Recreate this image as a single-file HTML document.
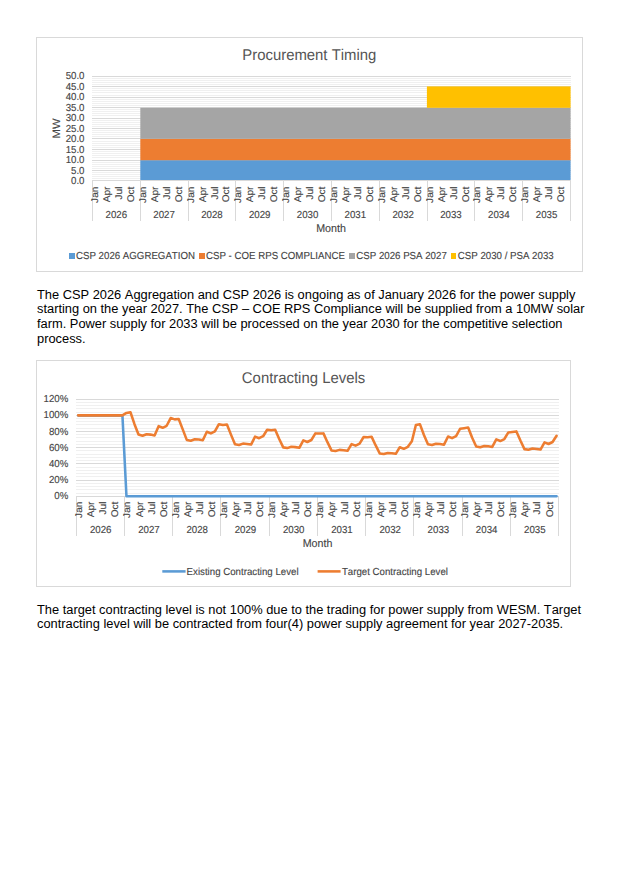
<!DOCTYPE html>
<html><head><meta charset="utf-8"><title>Procurement Timing</title>
<style>
html,body{margin:0;padding:0;background:#fff;}
body{width:632px;height:895px;position:relative;overflow:hidden;font-family:"Liberation Sans", sans-serif;font-kerning:none;}
svg{position:absolute;left:0;top:0;}
svg text{font-family:"Liberation Sans", sans-serif;font-kerning:none;text-rendering:geometricPrecision;stroke:#444444;stroke-width:0.12px;}
.p{position:absolute;left:37px;margin:0;font-size:12.85px;line-height:14.7px;color:#000;white-space:nowrap;}
</style></head><body>
<svg width="632" height="895" viewBox="0 0 632 895">
<rect x="36.5" y="37.5" width="546" height="234" fill="#fff" stroke="#d9d9d9" stroke-width="1"/>
<text transform="translate(309.30,60.00) scale(1,1.045)" text-anchor="middle" font-size="14.9" fill="#555555" style="stroke:none">Procurement Timing</text>
<rect x="92" y="78" width="479" height="1" fill="#f0f0f0"/>
<rect x="92" y="80" width="479" height="1" fill="#f0f0f0"/>
<rect x="92" y="82" width="479" height="1" fill="#f0f0f0"/>
<rect x="92" y="84" width="479" height="1" fill="#f0f0f0"/>
<rect x="92" y="88" width="479" height="1" fill="#f0f0f0"/>
<rect x="92" y="90" width="479" height="1" fill="#f0f0f0"/>
<rect x="92" y="92" width="479" height="1" fill="#f0f0f0"/>
<rect x="92" y="95" width="479" height="1" fill="#f0f0f0"/>
<rect x="92" y="99" width="479" height="1" fill="#f0f0f0"/>
<rect x="92" y="101" width="479" height="1" fill="#f0f0f0"/>
<rect x="92" y="103" width="479" height="1" fill="#f0f0f0"/>
<rect x="92" y="105" width="479" height="1" fill="#f0f0f0"/>
<rect x="92" y="109" width="479" height="1" fill="#f0f0f0"/>
<rect x="92" y="111" width="479" height="1" fill="#f0f0f0"/>
<rect x="92" y="113" width="479" height="1" fill="#f0f0f0"/>
<rect x="92" y="115" width="479" height="1" fill="#f0f0f0"/>
<rect x="92" y="120" width="479" height="1" fill="#f0f0f0"/>
<rect x="92" y="122" width="479" height="1" fill="#f0f0f0"/>
<rect x="92" y="124" width="479" height="1" fill="#f0f0f0"/>
<rect x="92" y="126" width="479" height="1" fill="#f0f0f0"/>
<rect x="92" y="130" width="479" height="1" fill="#f0f0f0"/>
<rect x="92" y="132" width="479" height="1" fill="#f0f0f0"/>
<rect x="92" y="134" width="479" height="1" fill="#f0f0f0"/>
<rect x="92" y="136" width="479" height="1" fill="#f0f0f0"/>
<rect x="92" y="141" width="479" height="1" fill="#f0f0f0"/>
<rect x="92" y="143" width="479" height="1" fill="#f0f0f0"/>
<rect x="92" y="145" width="479" height="1" fill="#f0f0f0"/>
<rect x="92" y="147" width="479" height="1" fill="#f0f0f0"/>
<rect x="92" y="151" width="479" height="1" fill="#f0f0f0"/>
<rect x="92" y="153" width="479" height="1" fill="#f0f0f0"/>
<rect x="92" y="155" width="479" height="1" fill="#f0f0f0"/>
<rect x="92" y="157" width="479" height="1" fill="#f0f0f0"/>
<rect x="92" y="162" width="479" height="1" fill="#f0f0f0"/>
<rect x="92" y="164" width="479" height="1" fill="#f0f0f0"/>
<rect x="92" y="166" width="479" height="1" fill="#f0f0f0"/>
<rect x="92" y="168" width="479" height="1" fill="#f0f0f0"/>
<rect x="92" y="172" width="479" height="1" fill="#f0f0f0"/>
<rect x="92" y="174" width="479" height="1" fill="#f0f0f0"/>
<rect x="92" y="176" width="479" height="1" fill="#f0f0f0"/>
<rect x="92" y="178" width="479" height="1" fill="#f0f0f0"/>
<rect x="92" y="76" width="479" height="1" fill="#d9d9d9"/>
<rect x="92" y="86" width="479" height="1" fill="#d9d9d9"/>
<rect x="92" y="97" width="479" height="1" fill="#d9d9d9"/>
<rect x="92" y="107" width="479" height="1" fill="#d9d9d9"/>
<rect x="92" y="118" width="479" height="1" fill="#d9d9d9"/>
<rect x="92" y="128" width="479" height="1" fill="#d9d9d9"/>
<rect x="92" y="138" width="479" height="1" fill="#d9d9d9"/>
<rect x="92" y="149" width="479" height="1" fill="#d9d9d9"/>
<rect x="92" y="160" width="479" height="1" fill="#d9d9d9"/>
<rect x="92" y="170" width="479" height="1" fill="#d9d9d9"/>
<text transform="translate(84.50,79.30) scale(1,1.045)" text-anchor="end" font-size="9.7" fill="#444444">50.0</text>
<text transform="translate(84.50,89.78) scale(1,1.045)" text-anchor="end" font-size="9.7" fill="#444444">45.0</text>
<text transform="translate(84.50,100.26) scale(1,1.045)" text-anchor="end" font-size="9.7" fill="#444444">40.0</text>
<text transform="translate(84.50,110.74) scale(1,1.045)" text-anchor="end" font-size="9.7" fill="#444444">35.0</text>
<text transform="translate(84.50,121.22) scale(1,1.045)" text-anchor="end" font-size="9.7" fill="#444444">30.0</text>
<text transform="translate(84.50,131.70) scale(1,1.045)" text-anchor="end" font-size="9.7" fill="#444444">25.0</text>
<text transform="translate(84.50,142.18) scale(1,1.045)" text-anchor="end" font-size="9.7" fill="#444444">20.0</text>
<text transform="translate(84.50,152.66) scale(1,1.045)" text-anchor="end" font-size="9.7" fill="#444444">15.0</text>
<text transform="translate(84.50,163.14) scale(1,1.045)" text-anchor="end" font-size="9.7" fill="#444444">10.0</text>
<text transform="translate(84.50,173.62) scale(1,1.045)" text-anchor="end" font-size="9.7" fill="#444444">5.0</text>
<text transform="translate(84.50,184.10) scale(1,1.045)" text-anchor="end" font-size="9.7" fill="#444444">0.0</text>
<text transform="translate(60.00,128.50) rotate(-90) scale(1.045,1)" text-anchor="middle" font-size="10.7" fill="#444444">MW</text>
<rect x="140.3" y="160.2" width="430.30" height="19.80" fill="#5b9bd5"/>
<rect x="140.3" y="138.8" width="430.30" height="21.40" fill="#ed7d31"/>
<rect x="140.3" y="107.8" width="430.30" height="31.00" fill="#a5a5a5"/>
<rect x="426.9" y="86.4" width="143.70" height="21.40" fill="#ffc000"/>
<rect x="92" y="180" width="479" height="1" fill="#d9d9d9"/>
<rect x="92" y="180" width="1" height="41" fill="#d9d9d9"/>
<rect x="140" y="180" width="1" height="41" fill="#d9d9d9"/>
<rect x="188" y="180" width="1" height="41" fill="#d9d9d9"/>
<rect x="235" y="180" width="1" height="41" fill="#d9d9d9"/>
<rect x="283" y="180" width="1" height="41" fill="#d9d9d9"/>
<rect x="331" y="180" width="1" height="41" fill="#d9d9d9"/>
<rect x="379" y="180" width="1" height="41" fill="#d9d9d9"/>
<rect x="427" y="180" width="1" height="41" fill="#d9d9d9"/>
<rect x="474" y="180" width="1" height="41" fill="#d9d9d9"/>
<rect x="522" y="180" width="1" height="41" fill="#d9d9d9"/>
<rect x="570" y="180" width="1" height="41" fill="#d9d9d9"/>
<text transform="translate(97.99,186.60) rotate(-90) scale(1.045,1)" text-anchor="end" font-size="9.7" fill="#444444">Jan</text>
<text transform="translate(109.94,186.60) rotate(-90) scale(1.045,1)" text-anchor="end" font-size="9.7" fill="#444444">Apr</text>
<text transform="translate(121.90,186.60) rotate(-90) scale(1.045,1)" text-anchor="end" font-size="9.7" fill="#444444">Jul</text>
<text transform="translate(133.85,186.60) rotate(-90) scale(1.045,1)" text-anchor="end" font-size="9.7" fill="#444444">Oct</text>
<text transform="translate(116.31,217.70) scale(1,1.045)" text-anchor="middle" font-size="9.7" fill="#444444">2026</text>
<text transform="translate(145.80,186.60) rotate(-90) scale(1.045,1)" text-anchor="end" font-size="9.7" fill="#444444">Jan</text>
<text transform="translate(157.75,186.60) rotate(-90) scale(1.045,1)" text-anchor="end" font-size="9.7" fill="#444444">Apr</text>
<text transform="translate(169.71,186.60) rotate(-90) scale(1.045,1)" text-anchor="end" font-size="9.7" fill="#444444">Jul</text>
<text transform="translate(181.66,186.60) rotate(-90) scale(1.045,1)" text-anchor="end" font-size="9.7" fill="#444444">Oct</text>
<text transform="translate(164.12,217.70) scale(1,1.045)" text-anchor="middle" font-size="9.7" fill="#444444">2027</text>
<text transform="translate(193.61,186.60) rotate(-90) scale(1.045,1)" text-anchor="end" font-size="9.7" fill="#444444">Jan</text>
<text transform="translate(205.56,186.60) rotate(-90) scale(1.045,1)" text-anchor="end" font-size="9.7" fill="#444444">Apr</text>
<text transform="translate(217.52,186.60) rotate(-90) scale(1.045,1)" text-anchor="end" font-size="9.7" fill="#444444">Jul</text>
<text transform="translate(229.47,186.60) rotate(-90) scale(1.045,1)" text-anchor="end" font-size="9.7" fill="#444444">Oct</text>
<text transform="translate(211.93,217.70) scale(1,1.045)" text-anchor="middle" font-size="9.7" fill="#444444">2028</text>
<text transform="translate(241.42,186.60) rotate(-90) scale(1.045,1)" text-anchor="end" font-size="9.7" fill="#444444">Jan</text>
<text transform="translate(253.37,186.60) rotate(-90) scale(1.045,1)" text-anchor="end" font-size="9.7" fill="#444444">Apr</text>
<text transform="translate(265.33,186.60) rotate(-90) scale(1.045,1)" text-anchor="end" font-size="9.7" fill="#444444">Jul</text>
<text transform="translate(277.28,186.60) rotate(-90) scale(1.045,1)" text-anchor="end" font-size="9.7" fill="#444444">Oct</text>
<text transform="translate(259.74,217.70) scale(1,1.045)" text-anchor="middle" font-size="9.7" fill="#444444">2029</text>
<text transform="translate(289.23,186.60) rotate(-90) scale(1.045,1)" text-anchor="end" font-size="9.7" fill="#444444">Jan</text>
<text transform="translate(301.18,186.60) rotate(-90) scale(1.045,1)" text-anchor="end" font-size="9.7" fill="#444444">Apr</text>
<text transform="translate(313.14,186.60) rotate(-90) scale(1.045,1)" text-anchor="end" font-size="9.7" fill="#444444">Jul</text>
<text transform="translate(325.09,186.60) rotate(-90) scale(1.045,1)" text-anchor="end" font-size="9.7" fill="#444444">Oct</text>
<text transform="translate(307.55,217.70) scale(1,1.045)" text-anchor="middle" font-size="9.7" fill="#444444">2030</text>
<text transform="translate(337.04,186.60) rotate(-90) scale(1.045,1)" text-anchor="end" font-size="9.7" fill="#444444">Jan</text>
<text transform="translate(348.99,186.60) rotate(-90) scale(1.045,1)" text-anchor="end" font-size="9.7" fill="#444444">Apr</text>
<text transform="translate(360.95,186.60) rotate(-90) scale(1.045,1)" text-anchor="end" font-size="9.7" fill="#444444">Jul</text>
<text transform="translate(372.90,186.60) rotate(-90) scale(1.045,1)" text-anchor="end" font-size="9.7" fill="#444444">Oct</text>
<text transform="translate(355.36,217.70) scale(1,1.045)" text-anchor="middle" font-size="9.7" fill="#444444">2031</text>
<text transform="translate(384.85,186.60) rotate(-90) scale(1.045,1)" text-anchor="end" font-size="9.7" fill="#444444">Jan</text>
<text transform="translate(396.80,186.60) rotate(-90) scale(1.045,1)" text-anchor="end" font-size="9.7" fill="#444444">Apr</text>
<text transform="translate(408.76,186.60) rotate(-90) scale(1.045,1)" text-anchor="end" font-size="9.7" fill="#444444">Jul</text>
<text transform="translate(420.71,186.60) rotate(-90) scale(1.045,1)" text-anchor="end" font-size="9.7" fill="#444444">Oct</text>
<text transform="translate(403.16,217.70) scale(1,1.045)" text-anchor="middle" font-size="9.7" fill="#444444">2032</text>
<text transform="translate(432.66,186.60) rotate(-90) scale(1.045,1)" text-anchor="end" font-size="9.7" fill="#444444">Jan</text>
<text transform="translate(444.61,186.60) rotate(-90) scale(1.045,1)" text-anchor="end" font-size="9.7" fill="#444444">Apr</text>
<text transform="translate(456.57,186.60) rotate(-90) scale(1.045,1)" text-anchor="end" font-size="9.7" fill="#444444">Jul</text>
<text transform="translate(468.52,186.60) rotate(-90) scale(1.045,1)" text-anchor="end" font-size="9.7" fill="#444444">Oct</text>
<text transform="translate(450.98,217.70) scale(1,1.045)" text-anchor="middle" font-size="9.7" fill="#444444">2033</text>
<text transform="translate(480.47,186.60) rotate(-90) scale(1.045,1)" text-anchor="end" font-size="9.7" fill="#444444">Jan</text>
<text transform="translate(492.42,186.60) rotate(-90) scale(1.045,1)" text-anchor="end" font-size="9.7" fill="#444444">Apr</text>
<text transform="translate(504.38,186.60) rotate(-90) scale(1.045,1)" text-anchor="end" font-size="9.7" fill="#444444">Jul</text>
<text transform="translate(516.33,186.60) rotate(-90) scale(1.045,1)" text-anchor="end" font-size="9.7" fill="#444444">Oct</text>
<text transform="translate(498.78,217.70) scale(1,1.045)" text-anchor="middle" font-size="9.7" fill="#444444">2034</text>
<text transform="translate(528.28,186.60) rotate(-90) scale(1.045,1)" text-anchor="end" font-size="9.7" fill="#444444">Jan</text>
<text transform="translate(540.23,186.60) rotate(-90) scale(1.045,1)" text-anchor="end" font-size="9.7" fill="#444444">Apr</text>
<text transform="translate(552.19,186.60) rotate(-90) scale(1.045,1)" text-anchor="end" font-size="9.7" fill="#444444">Jul</text>
<text transform="translate(564.14,186.60) rotate(-90) scale(1.045,1)" text-anchor="end" font-size="9.7" fill="#444444">Oct</text>
<text transform="translate(546.60,217.70) scale(1,1.045)" text-anchor="middle" font-size="9.7" fill="#444444">2035</text>
<text transform="translate(331.00,232.20) scale(1,1.045)" text-anchor="middle" font-size="10.7" fill="#444444">Month</text>
<rect x="69" y="253" width="6" height="6" fill="#5b9bd5"/>
<text transform="translate(76.00,259.10) scale(1,1.045)" font-size="9.7" fill="#444444">CSP 2026 AGGREGATION</text>
<rect x="199" y="253" width="6" height="6" fill="#ed7d31"/>
<text transform="translate(206.00,259.10) scale(1,1.045)" font-size="9.7" fill="#444444">CSP - COE RPS COMPLIANCE</text>
<rect x="349" y="253" width="6" height="6" fill="#a5a5a5"/>
<text transform="translate(356.30,259.10) scale(1,1.045)" font-size="9.7" fill="#444444">CSP 2026 PSA 2027</text>
<rect x="451" y="253" width="5" height="6" fill="#ffc000"/>
<text transform="translate(457.80,259.10) scale(1,1.045)" font-size="9.7" fill="#444444">CSP 2030 / PSA 2033</text>
<rect x="36.5" y="360.5" width="534" height="226" fill="#fff" stroke="#d9d9d9" stroke-width="1"/>
<text transform="translate(303.50,383.00) scale(1,1.045)" text-anchor="middle" font-size="14.9" fill="#555555" style="stroke:none">Contracting Levels</text>
<rect x="76" y="402" width="483" height="1" fill="#f0f0f0"/>
<rect x="76" y="405" width="483" height="1" fill="#f0f0f0"/>
<rect x="76" y="408" width="483" height="1" fill="#f0f0f0"/>
<rect x="76" y="412" width="483" height="1" fill="#f0f0f0"/>
<rect x="76" y="418" width="483" height="1" fill="#f0f0f0"/>
<rect x="76" y="421" width="483" height="1" fill="#f0f0f0"/>
<rect x="76" y="424" width="483" height="1" fill="#f0f0f0"/>
<rect x="76" y="428" width="483" height="1" fill="#f0f0f0"/>
<rect x="76" y="434" width="483" height="1" fill="#f0f0f0"/>
<rect x="76" y="437" width="483" height="1" fill="#f0f0f0"/>
<rect x="76" y="441" width="483" height="1" fill="#f0f0f0"/>
<rect x="76" y="444" width="483" height="1" fill="#f0f0f0"/>
<rect x="76" y="450" width="483" height="1" fill="#f0f0f0"/>
<rect x="76" y="454" width="483" height="1" fill="#f0f0f0"/>
<rect x="76" y="457" width="483" height="1" fill="#f0f0f0"/>
<rect x="76" y="460" width="483" height="1" fill="#f0f0f0"/>
<rect x="76" y="467" width="483" height="1" fill="#f0f0f0"/>
<rect x="76" y="470" width="483" height="1" fill="#f0f0f0"/>
<rect x="76" y="473" width="483" height="1" fill="#f0f0f0"/>
<rect x="76" y="476" width="483" height="1" fill="#f0f0f0"/>
<rect x="76" y="483" width="483" height="1" fill="#f0f0f0"/>
<rect x="76" y="486" width="483" height="1" fill="#f0f0f0"/>
<rect x="76" y="489" width="483" height="1" fill="#f0f0f0"/>
<rect x="76" y="493" width="483" height="1" fill="#f0f0f0"/>
<rect x="76" y="399" width="483" height="1" fill="#d9d9d9"/>
<rect x="76" y="415" width="483" height="1" fill="#d9d9d9"/>
<rect x="76" y="431" width="483" height="1" fill="#d9d9d9"/>
<rect x="76" y="447" width="483" height="1" fill="#d9d9d9"/>
<rect x="76" y="463" width="483" height="1" fill="#d9d9d9"/>
<rect x="76" y="480" width="483" height="1" fill="#d9d9d9"/>
<text transform="translate(68.30,402.35) scale(1,1.045)" text-anchor="end" font-size="9.7" fill="#444444">120%</text>
<text transform="translate(68.30,418.47) scale(1,1.045)" text-anchor="end" font-size="9.7" fill="#444444">100%</text>
<text transform="translate(68.30,434.59) scale(1,1.045)" text-anchor="end" font-size="9.7" fill="#444444">80%</text>
<text transform="translate(68.30,450.71) scale(1,1.045)" text-anchor="end" font-size="9.7" fill="#444444">60%</text>
<text transform="translate(68.30,466.83) scale(1,1.045)" text-anchor="end" font-size="9.7" fill="#444444">40%</text>
<text transform="translate(68.30,482.95) scale(1,1.045)" text-anchor="end" font-size="9.7" fill="#444444">20%</text>
<text transform="translate(68.30,499.07) scale(1,1.045)" text-anchor="end" font-size="9.7" fill="#444444">0%</text>
<rect x="76" y="496" width="483" height="1" fill="#d9d9d9"/>
<rect x="76" y="496" width="1" height="40" fill="#d9d9d9"/>
<rect x="124" y="496" width="1" height="40" fill="#d9d9d9"/>
<rect x="172" y="496" width="1" height="40" fill="#d9d9d9"/>
<rect x="220" y="496" width="1" height="40" fill="#d9d9d9"/>
<rect x="269" y="496" width="1" height="40" fill="#d9d9d9"/>
<rect x="317" y="496" width="1" height="40" fill="#d9d9d9"/>
<rect x="365" y="496" width="1" height="40" fill="#d9d9d9"/>
<rect x="413" y="496" width="1" height="40" fill="#d9d9d9"/>
<rect x="462" y="496" width="1" height="40" fill="#d9d9d9"/>
<rect x="510" y="496" width="1" height="40" fill="#d9d9d9"/>
<rect x="558" y="496" width="1" height="40" fill="#d9d9d9"/>
<text transform="translate(82.21,501.60) rotate(-90) scale(1.045,1)" text-anchor="end" font-size="9.7" fill="#444444">Jan</text>
<text transform="translate(94.27,501.60) rotate(-90) scale(1.045,1)" text-anchor="end" font-size="9.7" fill="#444444">Apr</text>
<text transform="translate(106.33,501.60) rotate(-90) scale(1.045,1)" text-anchor="end" font-size="9.7" fill="#444444">Jul</text>
<text transform="translate(118.39,501.60) rotate(-90) scale(1.045,1)" text-anchor="end" font-size="9.7" fill="#444444">Oct</text>
<text transform="translate(100.72,532.80) scale(1,1.045)" text-anchor="middle" font-size="9.7" fill="#444444">2026</text>
<text transform="translate(130.45,501.60) rotate(-90) scale(1.045,1)" text-anchor="end" font-size="9.7" fill="#444444">Jan</text>
<text transform="translate(142.51,501.60) rotate(-90) scale(1.045,1)" text-anchor="end" font-size="9.7" fill="#444444">Apr</text>
<text transform="translate(154.57,501.60) rotate(-90) scale(1.045,1)" text-anchor="end" font-size="9.7" fill="#444444">Jul</text>
<text transform="translate(166.63,501.60) rotate(-90) scale(1.045,1)" text-anchor="end" font-size="9.7" fill="#444444">Oct</text>
<text transform="translate(148.96,532.80) scale(1,1.045)" text-anchor="middle" font-size="9.7" fill="#444444">2027</text>
<text transform="translate(178.69,501.60) rotate(-90) scale(1.045,1)" text-anchor="end" font-size="9.7" fill="#444444">Jan</text>
<text transform="translate(190.75,501.60) rotate(-90) scale(1.045,1)" text-anchor="end" font-size="9.7" fill="#444444">Apr</text>
<text transform="translate(202.81,501.60) rotate(-90) scale(1.045,1)" text-anchor="end" font-size="9.7" fill="#444444">Jul</text>
<text transform="translate(214.87,501.60) rotate(-90) scale(1.045,1)" text-anchor="end" font-size="9.7" fill="#444444">Oct</text>
<text transform="translate(197.20,532.80) scale(1,1.045)" text-anchor="middle" font-size="9.7" fill="#444444">2028</text>
<text transform="translate(226.93,501.60) rotate(-90) scale(1.045,1)" text-anchor="end" font-size="9.7" fill="#444444">Jan</text>
<text transform="translate(238.99,501.60) rotate(-90) scale(1.045,1)" text-anchor="end" font-size="9.7" fill="#444444">Apr</text>
<text transform="translate(251.05,501.60) rotate(-90) scale(1.045,1)" text-anchor="end" font-size="9.7" fill="#444444">Jul</text>
<text transform="translate(263.11,501.60) rotate(-90) scale(1.045,1)" text-anchor="end" font-size="9.7" fill="#444444">Oct</text>
<text transform="translate(245.44,532.80) scale(1,1.045)" text-anchor="middle" font-size="9.7" fill="#444444">2029</text>
<text transform="translate(275.17,501.60) rotate(-90) scale(1.045,1)" text-anchor="end" font-size="9.7" fill="#444444">Jan</text>
<text transform="translate(287.23,501.60) rotate(-90) scale(1.045,1)" text-anchor="end" font-size="9.7" fill="#444444">Apr</text>
<text transform="translate(299.29,501.60) rotate(-90) scale(1.045,1)" text-anchor="end" font-size="9.7" fill="#444444">Jul</text>
<text transform="translate(311.35,501.60) rotate(-90) scale(1.045,1)" text-anchor="end" font-size="9.7" fill="#444444">Oct</text>
<text transform="translate(293.68,532.80) scale(1,1.045)" text-anchor="middle" font-size="9.7" fill="#444444">2030</text>
<text transform="translate(323.41,501.60) rotate(-90) scale(1.045,1)" text-anchor="end" font-size="9.7" fill="#444444">Jan</text>
<text transform="translate(335.47,501.60) rotate(-90) scale(1.045,1)" text-anchor="end" font-size="9.7" fill="#444444">Apr</text>
<text transform="translate(347.53,501.60) rotate(-90) scale(1.045,1)" text-anchor="end" font-size="9.7" fill="#444444">Jul</text>
<text transform="translate(359.59,501.60) rotate(-90) scale(1.045,1)" text-anchor="end" font-size="9.7" fill="#444444">Oct</text>
<text transform="translate(341.92,532.80) scale(1,1.045)" text-anchor="middle" font-size="9.7" fill="#444444">2031</text>
<text transform="translate(371.65,501.60) rotate(-90) scale(1.045,1)" text-anchor="end" font-size="9.7" fill="#444444">Jan</text>
<text transform="translate(383.71,501.60) rotate(-90) scale(1.045,1)" text-anchor="end" font-size="9.7" fill="#444444">Apr</text>
<text transform="translate(395.77,501.60) rotate(-90) scale(1.045,1)" text-anchor="end" font-size="9.7" fill="#444444">Jul</text>
<text transform="translate(407.83,501.60) rotate(-90) scale(1.045,1)" text-anchor="end" font-size="9.7" fill="#444444">Oct</text>
<text transform="translate(390.16,532.80) scale(1,1.045)" text-anchor="middle" font-size="9.7" fill="#444444">2032</text>
<text transform="translate(419.89,501.60) rotate(-90) scale(1.045,1)" text-anchor="end" font-size="9.7" fill="#444444">Jan</text>
<text transform="translate(431.95,501.60) rotate(-90) scale(1.045,1)" text-anchor="end" font-size="9.7" fill="#444444">Apr</text>
<text transform="translate(444.01,501.60) rotate(-90) scale(1.045,1)" text-anchor="end" font-size="9.7" fill="#444444">Jul</text>
<text transform="translate(456.07,501.60) rotate(-90) scale(1.045,1)" text-anchor="end" font-size="9.7" fill="#444444">Oct</text>
<text transform="translate(438.40,532.80) scale(1,1.045)" text-anchor="middle" font-size="9.7" fill="#444444">2033</text>
<text transform="translate(468.13,501.60) rotate(-90) scale(1.045,1)" text-anchor="end" font-size="9.7" fill="#444444">Jan</text>
<text transform="translate(480.19,501.60) rotate(-90) scale(1.045,1)" text-anchor="end" font-size="9.7" fill="#444444">Apr</text>
<text transform="translate(492.25,501.60) rotate(-90) scale(1.045,1)" text-anchor="end" font-size="9.7" fill="#444444">Jul</text>
<text transform="translate(504.31,501.60) rotate(-90) scale(1.045,1)" text-anchor="end" font-size="9.7" fill="#444444">Oct</text>
<text transform="translate(486.64,532.80) scale(1,1.045)" text-anchor="middle" font-size="9.7" fill="#444444">2034</text>
<text transform="translate(516.37,501.60) rotate(-90) scale(1.045,1)" text-anchor="end" font-size="9.7" fill="#444444">Jan</text>
<text transform="translate(528.43,501.60) rotate(-90) scale(1.045,1)" text-anchor="end" font-size="9.7" fill="#444444">Apr</text>
<text transform="translate(540.49,501.60) rotate(-90) scale(1.045,1)" text-anchor="end" font-size="9.7" fill="#444444">Jul</text>
<text transform="translate(552.55,501.60) rotate(-90) scale(1.045,1)" text-anchor="end" font-size="9.7" fill="#444444">Oct</text>
<text transform="translate(534.88,532.80) scale(1,1.045)" text-anchor="middle" font-size="9.7" fill="#444444">2035</text>
<text transform="translate(317.50,547.20) scale(1,1.045)" text-anchor="middle" font-size="10.7" fill="#444444">Month</text>
<polyline points="78.21,415.42 82.23,415.42 86.25,415.42 90.27,415.42 94.29,415.42 98.31,415.42 102.33,415.42 106.35,415.42 110.37,415.42 114.39,415.42 118.41,415.42 122.43,415.42 126.45,496.25 130.47,496.25 134.49,496.25 138.51,496.25 142.53,496.25 146.55,496.25 150.57,496.25 154.59,496.25 158.61,496.25 162.63,496.25 166.65,496.25 170.67,496.25 174.69,496.25 178.71,496.25 182.73,496.25 186.75,496.25 190.77,496.25 194.79,496.25 198.81,496.25 202.83,496.25 206.85,496.25 210.87,496.25 214.89,496.25 218.91,496.25 222.93,496.25 226.95,496.25 230.97,496.25 234.99,496.25 239.01,496.25 243.03,496.25 247.05,496.25 251.07,496.25 255.09,496.25 259.11,496.25 263.13,496.25 267.15,496.25 271.17,496.25 275.19,496.25 279.21,496.25 283.23,496.25 287.25,496.25 291.27,496.25 295.29,496.25 299.31,496.25 303.33,496.25 307.35,496.25 311.37,496.25 315.39,496.25 319.41,496.25 323.43,496.25 327.45,496.25 331.47,496.25 335.49,496.25 339.51,496.25 343.53,496.25 347.55,496.25 351.57,496.25 355.59,496.25 359.61,496.25 363.63,496.25 367.65,496.25 371.67,496.25 375.69,496.25 379.71,496.25 383.73,496.25 387.75,496.25 391.77,496.25 395.79,496.25 399.81,496.25 403.83,496.25 407.85,496.25 411.87,496.25 415.89,496.25 419.91,496.25 423.93,496.25 427.95,496.25 431.97,496.25 435.99,496.25 440.01,496.25 444.03,496.25 448.05,496.25 452.07,496.25 456.09,496.25 460.11,496.25 464.13,496.25 468.15,496.25 472.17,496.25 476.19,496.25 480.21,496.25 484.23,496.25 488.25,496.25 492.27,496.25 496.29,496.25 500.31,496.25 504.33,496.25 508.35,496.25 512.37,496.25 516.39,496.25 520.41,496.25 524.43,496.25 528.45,496.25 532.47,496.25 536.49,496.25 540.51,496.25 544.53,496.25 548.55,496.25 552.57,496.25 556.59,496.25" fill="none" stroke="#5b9bd5" stroke-width="2.55" stroke-linejoin="round" stroke-linecap="round"/>
<polyline points="78.21,415.35 82.23,415.35 86.25,415.35 90.27,415.35 94.29,415.35 98.31,415.35 102.33,415.35 106.35,415.35 110.37,415.35 114.39,415.35 118.41,415.35 122.43,415.35 126.45,412.94 130.47,412.22 134.49,424.18 138.51,434.45 142.53,435.73 146.55,434.21 150.57,434.61 154.59,435.41 158.61,426.18 162.63,427.79 166.65,425.78 170.67,418.08 174.69,419.36 178.71,418.96 182.73,429.39 186.75,439.91 190.77,440.79 194.79,439.26 198.81,439.59 202.83,440.22 206.85,431.80 210.87,433.40 214.89,431.40 218.91,424.18 222.93,424.98 226.95,424.58 230.97,434.61 234.99,444.24 239.01,445.04 243.03,443.60 247.05,443.92 251.07,444.56 255.09,436.62 259.11,438.22 263.13,436.22 267.15,429.80 271.17,430.19 275.19,429.80 279.21,439.02 283.23,447.37 287.25,448.09 291.27,446.80 295.29,447.13 299.31,447.77 303.33,440.39 307.35,441.99 311.37,439.99 315.39,433.40 319.41,433.56 323.43,433.40 327.45,442.16 331.47,450.42 335.49,451.06 339.51,449.86 343.53,450.18 347.55,450.82 351.57,444.08 355.59,445.68 359.61,443.68 363.63,437.02 367.65,437.34 371.67,436.85 375.69,445.45 379.71,453.39 383.73,454.03 387.75,452.91 391.77,453.23 395.79,453.79 399.81,447.21 403.83,448.82 407.85,446.80 411.87,441.19 415.89,425.06 419.91,424.18 423.93,435.01 427.95,444.24 431.97,445.04 435.99,443.68 440.01,444.00 444.03,444.64 448.05,436.54 452.07,438.14 456.09,436.13 460.11,428.75 464.13,428.19 468.15,427.55 472.17,437.82 476.19,446.49 480.21,447.21 484.23,445.92 488.25,446.25 492.27,446.89 496.29,439.42 500.31,441.03 504.33,439.02 508.35,432.44 512.37,431.96 516.39,431.40 520.41,440.55 524.43,449.13 528.45,449.78 532.47,448.57 536.49,448.90 540.51,449.54 544.53,442.39 548.55,444.00 552.57,441.99 556.59,435.81" fill="none" stroke="#ed7d31" stroke-width="2.55" stroke-linejoin="round" stroke-linecap="round"/>
<line x1="162.3" y1="571.4" x2="185.6" y2="571.4" stroke="#5b9bd5" stroke-width="2.55"/>
<text transform="translate(186.60,574.80) scale(1,1.045)" font-size="9.7" fill="#444444">Existing Contracting Level</text>
<line x1="317.6" y1="571.4" x2="340.6" y2="571.4" stroke="#ed7d31" stroke-width="2.55"/>
<text transform="translate(341.90,574.80) scale(1,1.045)" font-size="9.7" fill="#444444">Target Contracting Level</text>
</svg>
<div>
<div class="p" style="top:287.7px;">The CSP 2026 Aggregation and CSP 2026 is ongoing as of January 2026 for the power supply</div>
<div class="p" style="top:301.7px;">starting on the year 2027. The CSP &ndash; COE RPS Compliance will be supplied from a 10MW solar</div>
<div class="p" style="top:316.7px;">farm. Power supply for 2033 will be processed on the year 2030 for the competitive selection</div>
<div class="p" style="top:331.7px;">process.</div>
</div>
<div>
<div class="p" style="top:602.7px;">The target contracting level is not 100% due to the trading for power supply from WESM. Target</div>
<div class="p" style="top:616.7px;">contracting level will be contracted from four(4) power supply agreement for year 2027-2035.</div>
</div>
</body></html>
